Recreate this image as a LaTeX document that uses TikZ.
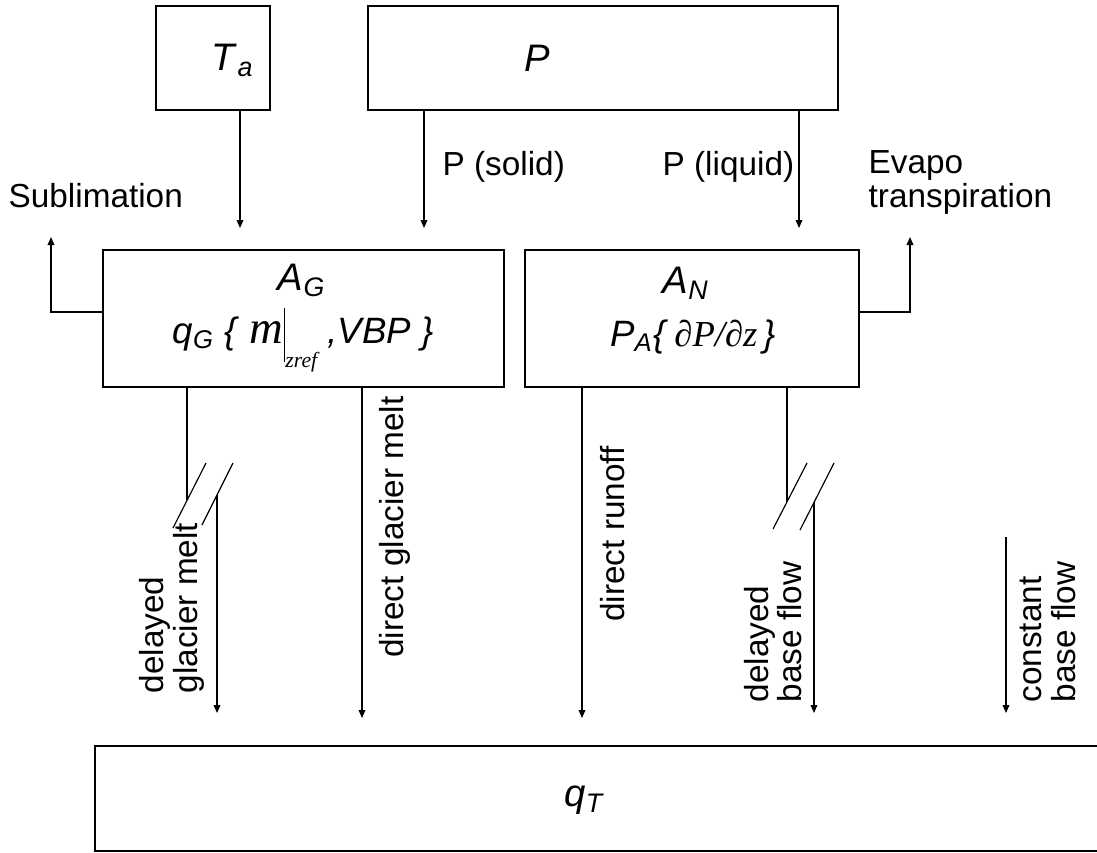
\documentclass[tikz,border=0pt]{standalone}
\usepackage{fontspec}
\setmainfont{Liberation Sans}
\newfontfamily\serf{Liberation Serif}
\usetikzlibrary{arrows.meta,fit}
\begin{document}
\begin{tikzpicture}[x=0.3pt,y=-0.3pt,
  box/.style={draw,line width=0.55pt,inner sep=0pt,outer sep=0pt},
  flow/.style={line width=0.4pt,-{Triangle[length=2.4pt,width=2pt]}},
  plain/.style={line width=0.4pt},
  brk/.style={line width=0.35pt},
  lbl/.style={inner sep=0pt,font=\fontsize{10}{10}\selectfont},
  vlbl/.style={inner sep=0pt,rotate=90,align=left,font=\fontsize{10}{10}\selectfont},
  big/.style={inner sep=0pt,font=\fontsize{11.5}{12}\selectfont},
  mid/.style={inner sep=0pt,font=\fontsize{11}{11}\selectfont}]
\useasboundingbox (0,0) rectangle (1097,852);
\clip (0,0) rectangle (1097,852);

% boxes
\node[box,fit={(156,6)(270,110)}] (Ta) {};
\node[box,fit={(368,6)(838,110)}] (P) {};
\node[box,fit={(103,250)(504,387)}] (AG) {};
\node[box,fit={(525,250)(859,387)}] (AN) {};
\node[box,fit={(95,746)(1110,851)}] (qT) {};

% box texts
\node[big] (TaL) at (233,60) {\textit{T}\textsubscript{\textit{a}}};
\node[big] (PL) at (537,58) {\textit{P}};
\node[big] (AGL) at (302,280) {\textit{A}\textsubscript{\textit{G}}};
\node[mid] (AGF) at (303,340) {\textit{q}\textsubscript{\textit{G}}\ \textit{\{}\ {\serf\itshape\fontsize{14}{14}\selectfont m}\rule[-0.5em]{0.05em}{1.45em}\raisebox{-0.65em}{\serf\itshape\fontsize{6.5}{6.5}\selectfont zref}\ \textit{,VBP}\ \textit{\}}};
\node[big] (ANL) at (686,283) {\textit{A}\textsubscript{\textit{N}}};
\node[mid] (ANF) at (693,337) {\textit{P}\textsubscript{\textit{A}}\textit{\{}\,{\serf\itshape ∂P/∂z}\,\textit{\}}};
\node[big] (qTL) at (585,800) {\textit{q}\textsubscript{\textit{T}}};

% side labels
\node[lbl,anchor=west] (subL) at (8,196) {Sublimation};
\node[lbl,anchor=west] (psL) at (442,167) {P (solid)};
\node[lbl,anchor=west] (plL) at (662,167) {P (liquid)};
\node[lbl,anchor=west,align=left,font=\fontsize{10}{10.2}\selectfont] (evL) at (868,182) {Evapo\\transpiration};

% vertical labels
\node[vlbl] (dgL) at (172,608) {delayed\\glacier melt};
\node[vlbl] (dgmL) at (395,527) {direct glacier melt};
\node[vlbl] (drL) at (613,534) {direct runoff};
\node[vlbl] (dbL) at (773,632) {delayed\\base flow};
\node[vlbl] (cbL) at (1048,632) {constant\\base flow};

% inputs
\coordinate (taE) at (240,228);
\draw[flow] (Ta.south -| taE) -- (taE);
\coordinate (psE) at (424,228);
\draw[flow] (P.south -| psE) -- (psE);
\coordinate (plE) at (799,228);
\draw[flow] (P.south -| plE) -- (plE);

% losses
\coordinate (subC) at (51,312);
\coordinate (subE) at (51,237);
\draw[flow] (AG.west |- subC) -- (subC) -- (subE);
\coordinate (evC) at (910,312);
\coordinate (evE) at (910,237);
\draw[flow] (AN.east |- evC) -- (evC) -- (evE);

% delayed glacier melt
\coordinate (dg1) at (187,500);
\draw[plain] (AG.south -| dg1) -- (dg1);
\draw[brk] (173,528) -- (206,463);
\draw[brk] (202,525) -- (233,463);
\coordinate (dg2) at (217,495);
\coordinate (dgE) at (217,713);
\draw[flow] (dg2) -- (dgE);

% direct glacier melt
\coordinate (dgmE) at (362,718);
\draw[flow] (AG.south -| dgmE) -- (dgmE);

% direct runoff
\coordinate (drE) at (582,718);
\draw[flow] (AN.south -| drE) -- (drE);

% delayed base flow
\coordinate (db1) at (787,502);
\draw[plain] (AN.south -| db1) -- (db1);
\draw[brk] (773,529) -- (807,463);
\draw[brk] (800,530) -- (834,463);
\coordinate (db2) at (814,502);
\coordinate (dbE) at (814,713);
\draw[flow] (db2) -- (dbE);

% constant base flow
\coordinate (cbS) at (1006,537);
\coordinate (cbE) at (1006,713);
\draw[flow] (cbS) -- (cbE);
\end{tikzpicture}
\end{document}
